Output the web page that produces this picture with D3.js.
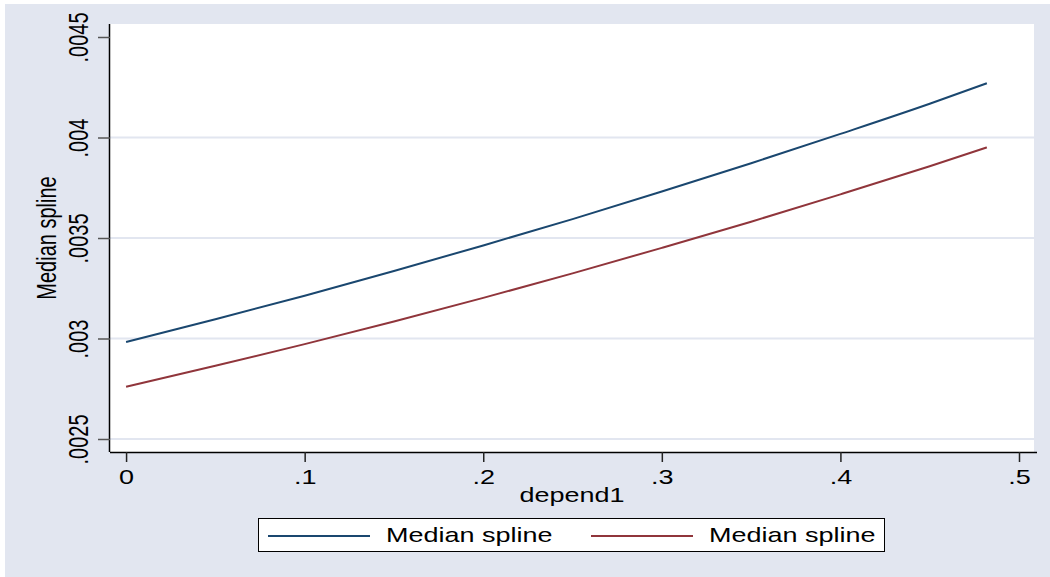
<!DOCTYPE html>
<html>
<head>
<meta charset="utf-8">
<script src="https://cdn.jsdelivr.net/npm/d3@7"></script>
<style>
  body { margin: 0; background: #fff; }
  svg { display: block; font-family: "Liberation Sans", Arial, sans-serif; }
</style>
</head>
<body>
<script>
// Chart data
var depend1 = [0, 0.05, 0.1, 0.15, 0.2, 0.25, 0.3, 0.35, 0.4, 0.45, 0.482];
var splineBlue = [0.002983, 0.003096, 0.003213, 0.003336, 0.003463, 0.003594, 0.003731, 0.003872, 0.004018, 0.004168, 0.004270];
var splineRed = [0.002760, 0.002864, 0.002972, 0.003085, 0.003202, 0.003324, 0.003451, 0.003581, 0.003717, 0.003857, 0.003951];
var seriesNames = ["Median spline", "Median spline"];
var xTicks = [0, 0.1, 0.2, 0.3, 0.4, 0.5];
var yTicks = [0.0025, 0.003, 0.0035, 0.004, 0.0045];
var gridTicks = [0.0025, 0.003, 0.0035, 0.004];

// Size of the picture and of the plot region
var W = 1050, H = 577;
var margin = { top: 24, left: 110, right: 16, bottom: 125 };
var width = W - margin.left - margin.right,
  height = H - margin.top - margin.bottom;

var colors = ["#1a476f", "#90353b"];
var bg = "#e2e6f0";
var stretch = "scale(1.35,1)"; // the text in the original is drawn wide

// Scales
var x = d3.scaleLinear().domain([-0.009, 0.5084]).range([0, width]);
var y = d3.scaleLinear().domain([0.0024353, 0.0045647]).range([height, 0]);

// Stata style numbers, no leading zero
function noZero(v) {
  var s = String(+v.toPrecision(6));
  return s.replace(/^0\./, ".");
}

var svg = d3.select("body").append("svg").
attr("width", W).
attr("height", H);

// outer background
svg.append("rect").
attr("x", 5).
attr("y", 4).
attr("width", W - 5).
attr("height", H - 4).
attr("fill", bg);

var g = svg.append("g").
attr("transform", "translate(" + margin.left + "," + margin.top + ")");

// white plot region
g.append("rect").
attr("width", width).
attr("height", height).
attr("fill", "#fff");

// horizontal grid lines
g.selectAll(".grid").
data(gridTicks).
enter().append("line").
attr("class", "grid").
attr("x1", 0).
attr("x2", width).
attr("y1", function (d) { return y(d); }).
attr("y2", function (d) { return y(d); }).
attr("stroke", bg).
attr("stroke-width", 2);

// x axis
var xAxis = d3.axisBottom(x).tickValues(xTicks).tickFormat(noZero).tickSize(10).tickPadding(4).tickSizeOuter(0);
var gx = g.append("g").
attr("transform", "translate(0," + height + ")").
call(xAxis);
gx.select(".domain").attr("stroke", "#000").attr("stroke-width", 1.5).attr("d", "M0,0.5H" + (width + 3));
gx.selectAll(".tick line").attr("stroke", "#222").attr("stroke-width", 1.5);
gx.selectAll(".tick text").
attr("y", 0).
attr("dy", 0).
attr("transform", "translate(0,32) " + stretch).
attr("fill", "#000").
style("font-size", "20px");

// y axis
var yAxis = d3.axisLeft(y).tickValues(yTicks).tickFormat(noZero).tickSize(12).tickSizeOuter(0);
var gy = g.append("g").call(yAxis);
gy.select(".domain").attr("stroke", "#000").attr("stroke-width", 1.5).attr("d", "M-0.5,0V" + height);
gy.selectAll(".tick line").attr("stroke", "#555").attr("stroke-width", 1.5);
gy.selectAll(".tick text").
attr("x", 0).
attr("dy", 0).
attr("transform", "translate(-22,0) " + stretch + " rotate(-90)").
attr("text-anchor", "middle").
attr("fill", "#000").
style("font-size", "20px");

// axis titles
g.append("text").
attr("transform", "translate(" + width / 2 + "," + (height + 50) + ") " + stretch).
attr("text-anchor", "middle").
style("font-size", "20px").
text("depend1");

g.append("text").
attr("transform", "translate(-54," + height / 2 + ") " + stretch + " rotate(-90)").
attr("text-anchor", "middle").
style("font-size", "20px").
text("Median spline");

// the two spline lines
var line = d3.line().
x(function (d) { return x(d[0]); }).
y(function (d) { return y(d[1]); }).
curve(d3.curveMonotoneX);

[splineBlue, splineRed].forEach(function (vals, i) {
  g.append("path").
  datum(depend1.map(function (d, j) { return [d, vals[j]]; })).
  attr("fill", "none").
  attr("stroke", colors[i]).
  attr("stroke-width", 2).
  attr("d", line);
});

// legend
var legend = svg.append("g").attr("transform", "translate(258,518)");
legend.append("rect").
attr("x", 0.5).
attr("y", 0.5).
attr("width", 626).
attr("height", 33).
attr("fill", "#fff").
attr("stroke", "#000").
attr("stroke-width", 1);

var item = legend.selectAll(".item").
data(seriesNames).
enter().append("g").
attr("class", "item").
attr("transform", function (d, i) { return "translate(" + (10 + i * 323) + ",0)"; });

item.append("line").
attr("x1", 0).
attr("x2", 102).
attr("y1", 18).
attr("y2", 18).
attr("stroke", function (d, i) { return colors[i]; }).
attr("stroke-width", 2);

item.append("text").
attr("transform", "translate(118,24) " + stretch).
style("font-size", "20px").
text(function (d) { return d; });
</script>
</body>
</html>
